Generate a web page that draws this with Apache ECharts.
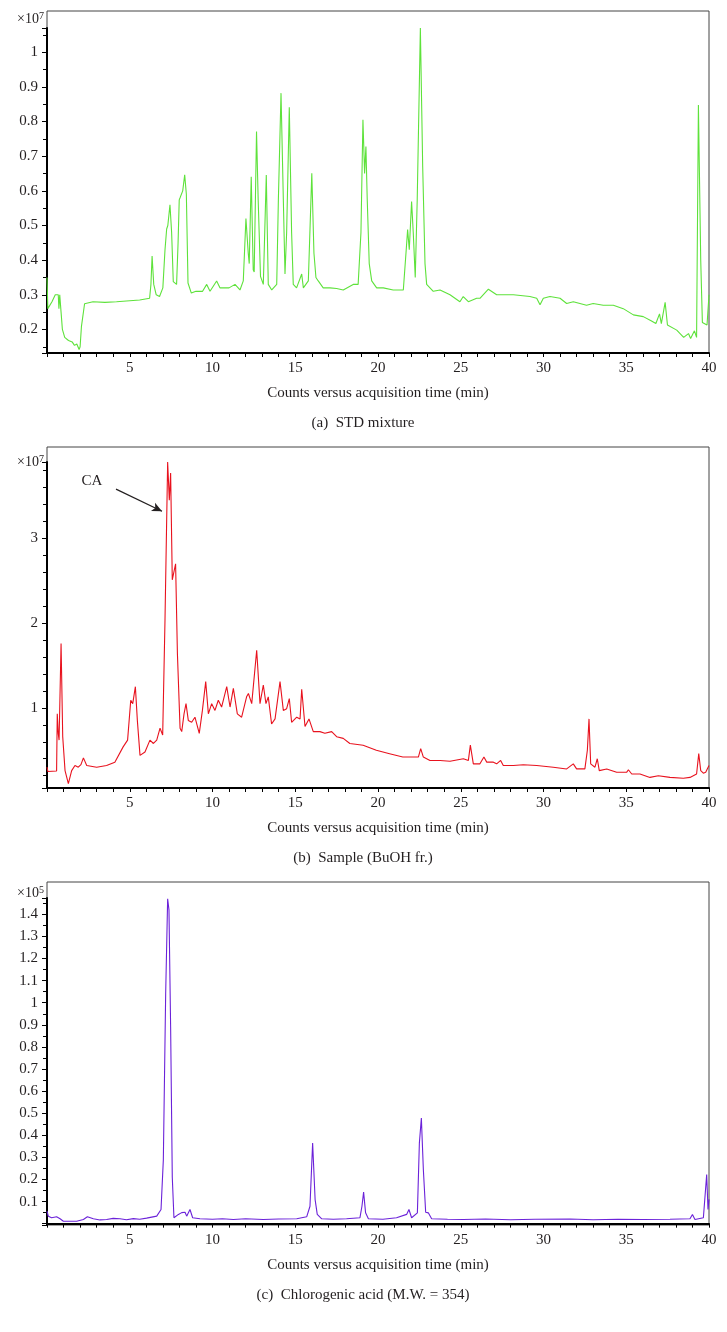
<!DOCTYPE html>
<html>
<head>
<meta charset="utf-8">
<script src="https://cdn.jsdelivr.net/npm/echarts@6/dist/echarts.min.js"></script>
<style>
  html, body { margin: 0; padding: 0; background: #fff; }
  #chart { width: 727px; height: 1332px; }
</style>
</head>
<body>
<div id="chart"></div>
<script>
// [time (min), counts]

// (a) STD mixture, x10^7
const stdPoints = [
  [0, 0.35], [0.05, 0.26], [0.3, 0.28], [0.5, 0.3], [0.68, 0.3], [0.72, 0.26], [0.77, 0.3], [0.85, 0.25],
  [0.93, 0.2], [1.07, 0.177], [1.3, 0.168], [1.52, 0.164], [1.66, 0.154], [1.8, 0.158], [1.94, 0.142],
  [2.0, 0.15], [2.08, 0.208], [2.27, 0.274], [2.78, 0.28], [3.5, 0.278], [4.2, 0.28], [5.0, 0.283],
  [5.6, 0.285], [6.2, 0.29], [6.28, 0.33], [6.35, 0.412], [6.45, 0.33], [6.6, 0.3], [6.8, 0.295],
  [7.0, 0.32], [7.13, 0.43], [7.23, 0.49], [7.3, 0.5], [7.43, 0.56], [7.53, 0.48], [7.63, 0.338],
  [7.83, 0.33], [7.92, 0.45], [7.99, 0.574], [8.04, 0.58], [8.2, 0.6], [8.32, 0.646], [8.42, 0.59],
  [8.52, 0.334], [8.72, 0.305], [9.0, 0.31], [9.4, 0.31], [9.65, 0.33], [9.85, 0.31], [10.25, 0.34],
  [10.45, 0.32], [11.0, 0.32], [11.36, 0.33], [11.66, 0.314], [11.86, 0.34], [12.02, 0.52], [12.16, 0.42],
  [12.22, 0.39], [12.34, 0.641], [12.46, 0.372], [12.52, 0.366], [12.66, 0.771], [12.76, 0.574],
  [12.9, 0.353], [13.07, 0.33], [13.25, 0.646], [13.37, 0.33], [13.58, 0.314], [13.88, 0.33],
  [13.98, 0.574], [14.14, 0.882], [14.28, 0.574], [14.38, 0.36], [14.48, 0.48], [14.64, 0.841],
  [14.78, 0.48], [14.88, 0.33], [15.08, 0.32], [15.39, 0.36], [15.49, 0.32], [15.79, 0.34], [16.0, 0.651],
  [16.13, 0.42], [16.25, 0.35], [16.39, 0.34], [16.69, 0.32], [17.1, 0.32], [17.5, 0.318], [17.9, 0.314],
  [18.5, 0.33], [18.8, 0.33], [18.97, 0.48], [19.09, 0.805], [19.19, 0.65], [19.27, 0.728], [19.35, 0.574],
  [19.47, 0.39], [19.62, 0.34], [19.92, 0.32], [20.32, 0.32], [20.92, 0.314], [21.53, 0.314], [21.69, 0.42],
  [21.79, 0.488], [21.89, 0.43], [22.03, 0.569], [22.13, 0.48], [22.25, 0.35], [22.37, 0.574], [22.56, 1.07],
  [22.7, 0.67], [22.84, 0.39], [22.94, 0.33], [23.34, 0.31], [23.75, 0.314], [24.35, 0.3], [24.95, 0.28],
  [25.15, 0.295], [25.46, 0.28], [25.96, 0.29], [26.16, 0.29], [26.67, 0.316], [27.17, 0.3], [28.18, 0.3],
  [29.18, 0.295], [29.59, 0.29], [29.79, 0.271], [29.99, 0.29], [30.39, 0.295], [31.0, 0.29], [31.4, 0.275],
  [31.8, 0.28], [32.6, 0.27], [33.0, 0.275], [33.61, 0.27], [34.22, 0.27], [34.82, 0.26], [35.43, 0.242],
  [36.03, 0.237], [36.5, 0.225], [36.79, 0.217], [37.01, 0.245], [37.12, 0.217], [37.35, 0.278],
  [37.49, 0.213], [38.05, 0.198], [38.47, 0.177], [38.76, 0.188], [38.89, 0.174], [39.12, 0.196],
  [39.25, 0.177], [39.36, 0.848], [39.5, 0.4], [39.6, 0.22], [39.88, 0.213], [40, 0.3]
]

// (b) Sample (BuOH fr.), x10^7
const samplePoints = [
  [0, 0.3], [0.05, 0.25], [0.58, 0.256], [0.62, 0.93], [0.68, 0.7], [0.73, 0.62], [0.85, 1.76], [0.95, 0.66],
  [1.09, 0.26], [1.29, 0.106], [1.49, 0.26], [1.69, 0.32], [1.89, 0.3], [2.05, 0.33], [2.2, 0.41], [2.4, 0.32],
  [3.0, 0.3], [3.6, 0.32], [4.1, 0.36], [4.6, 0.54], [4.87, 0.62], [5.06, 1.09], [5.18, 1.05], [5.34, 1.25],
  [5.46, 0.85], [5.62, 0.44], [5.92, 0.48], [6.22, 0.62], [6.43, 0.58], [6.63, 0.62], [6.83, 0.76],
  [6.99, 0.68], [7.13, 2.04], [7.29, 3.9], [7.39, 3.45], [7.47, 3.77], [7.57, 2.51], [7.67, 2.49], [7.77, 2.7],
  [7.88, 1.64], [8.04, 0.76], [8.14, 0.72], [8.28, 0.93], [8.4, 1.05], [8.54, 0.85], [8.74, 0.83],
  [8.94, 0.89], [9.2, 0.7], [9.39, 0.97], [9.59, 1.31], [9.75, 0.93], [9.95, 1.05], [10.15, 0.97],
  [10.35, 1.09], [10.55, 1.01], [10.86, 1.25], [11.06, 1.01], [11.26, 1.23], [11.5, 0.93], [11.76, 0.89],
  [12.06, 1.13], [12.17, 1.17], [12.37, 1.05], [12.67, 1.68], [12.87, 1.05], [13.07, 1.27], [13.23, 1.05],
  [13.37, 1.13], [13.57, 0.81], [13.78, 0.87], [14.08, 1.31], [14.28, 0.97], [14.48, 0.99], [14.64, 1.11],
  [14.78, 0.83], [15.09, 0.89], [15.29, 0.87], [15.39, 1.22], [15.59, 0.78], [15.83, 0.87], [16.09, 0.72],
  [16.49, 0.72], [16.79, 0.7], [17.2, 0.72], [17.5, 0.66], [17.9, 0.64], [18.3, 0.58], [19.1, 0.56],
  [19.9, 0.5], [20.7, 0.46], [21.5, 0.42], [22.0, 0.42], [22.44, 0.42], [22.58, 0.52], [22.74, 0.42],
  [23.14, 0.38], [23.75, 0.38], [24.35, 0.37], [25.16, 0.4], [25.46, 0.38], [25.58, 0.56], [25.76, 0.34],
  [26.16, 0.34], [26.4, 0.42], [26.57, 0.36], [26.97, 0.36], [27.17, 0.34], [27.41, 0.38], [27.57, 0.32],
  [28.18, 0.32], [28.78, 0.33], [29.59, 0.32], [30.59, 0.3], [31.4, 0.28], [31.8, 0.34], [32.0, 0.28],
  [32.5, 0.28], [32.65, 0.5], [32.75, 0.87], [32.85, 0.34], [33.11, 0.3], [33.25, 0.4], [33.37, 0.26],
  [33.82, 0.28], [34.42, 0.24], [35.02, 0.24], [35.13, 0.27], [35.33, 0.22], [35.83, 0.22], [36.43, 0.18],
  [36.94, 0.2], [37.64, 0.18], [38.45, 0.17], [38.85, 0.18], [39.25, 0.22], [39.38, 0.46], [39.5, 0.26],
  [39.66, 0.23], [39.8, 0.24], [40, 0.32]
]

// (c) Chlorogenic acid, x10^5
const cgaPoints = [
  [0, 0.057], [0.08, 0.034], [0.28, 0.027], [0.58, 0.031], [0.79, 0.022], [0.99, 0.011], [1.79, 0.011],
  [2.2, 0.019], [2.44, 0.031], [2.8, 0.022], [3.2, 0.017], [3.6, 0.019], [4.0, 0.024], [4.41, 0.022],
  [4.8, 0.018], [5.22, 0.023], [5.6, 0.02], [6.02, 0.025], [6.63, 0.034], [6.89, 0.064], [7.03, 0.29],
  [7.17, 1.04], [7.29, 1.47], [7.37, 1.42], [7.47, 0.89], [7.57, 0.21], [7.67, 0.027], [7.94, 0.042],
  [8.14, 0.05], [8.34, 0.052], [8.44, 0.034], [8.64, 0.064], [8.8, 0.027], [9.24, 0.022], [10.0, 0.02],
  [10.6, 0.022], [11.26, 0.019], [12.0, 0.022], [13.07, 0.019], [14.0, 0.021], [15.09, 0.022],
  [15.69, 0.031], [15.89, 0.079], [16.05, 0.365], [16.2, 0.109], [16.33, 0.042], [16.6, 0.022],
  [17.3, 0.02], [18.1, 0.022], [18.91, 0.027], [19.03, 0.079], [19.13, 0.143], [19.25, 0.049],
  [19.42, 0.022], [20.3, 0.02], [21.12, 0.027], [21.73, 0.042], [21.87, 0.064], [22.03, 0.027],
  [22.38, 0.049], [22.5, 0.365], [22.62, 0.478], [22.74, 0.245], [22.88, 0.052], [23.04, 0.049],
  [23.24, 0.022], [24.2, 0.02], [25.16, 0.019], [26.5, 0.021], [28, 0.018], [29.5, 0.02], [31.6, 0.021],
  [33, 0.018], [34.5, 0.02], [36, 0.019], [37.64, 0.02], [38.85, 0.022], [39.0, 0.042], [39.15, 0.019],
  [39.66, 0.027], [39.86, 0.222], [39.94, 0.064], [40, 0.11]
]

const captions = ['(a)  STD mixture', '(b)  Sample (BuOH fr.)', '(c)  Chlorogenic acid (M.W. = 354)']
const exponents = ['7', '7', '5']
const xTitle = 'Counts versus acquisition time (min)'

const FONT = 'Liberation Serif'
const INK = '#231f20'

// panel geometry (px): frame top, axis top, axis bottom
const panels = [
  { frameTop: 11, top: 28, bottom: 353, min: 0.132, max: 1.07, split: 9, minor: 2, nameGap: 9, color: '#5ee23b' },
  { frameTop: 447, top: 462, bottom: 788, min: 0.055, max: 3.9, split: 4, minor: 5, nameGap: 0, color: '#e8121e' },
  { frameTop: 882, top: 898, bottom: 1225, min: -0.006, max: 1.474, split: 15, minor: 2, nameGap: 5, color: '#6b22d9' }
]
const seriesPoints = [stdPoints, samplePoints, cgaPoints]

const chart = echarts.init(document.getElementById('chart'))

const grids = panels.map(p => ({
  left: 47,
  width: 662,
  top: p.top,
  height: p.bottom - p.top
}))

const xAxes = panels.map((p, i) => ({
  type: 'value',
  gridIndex: i,
  min: 0,
  max: 40,
  interval: 5,
  name: xTitle,
  nameLocation: 'middle',
  nameGap: 33,
  nameTextStyle: { fontFamily: FONT, fontSize: 15, color: INK },
  axisLine: { lineStyle: { color: '#000', width: 2 } },
  axisTick: { show: true, length: 4, lineStyle: { color: '#000' } },
  minorTick: { show: true, splitNumber: 5, length: 4, lineStyle: { color: '#000' } },
  splitLine: { show: false },
  axisLabel: {
    showMinLabel: false,
    margin: 8,
    fontFamily: FONT,
    fontSize: 15,
    color: INK
  }
}))

const yAxes = panels.map((p, i) => ({
  type: 'value',
  gridIndex: i,
  min: p.min,
  max: p.max,
  splitNumber: p.split,
  name: '{a|×10}{b|' + exponents[i] + '}',
  nameLocation: 'end',
  nameGap: p.nameGap,
  nameTextStyle: {
    align: 'right',
    verticalAlign: 'middle',
    padding: [0, 3, 0, 0],
    rich: {
      a: { fontFamily: FONT, fontSize: 14, color: INK },
      b: { fontFamily: FONT, fontSize: 10, color: INK, verticalAlign: 'top', padding: [0, 0, 6, 0] }
    }
  },
  axisLine: { show: true, lineStyle: { color: '#000', width: 2 } },
  axisTick: { show: true, length: 5, lineStyle: { color: '#000' } },
  minorTick: { show: true, splitNumber: p.minor, length: 4, lineStyle: { color: '#000' } },
  splitLine: { show: false },
  axisLabel: {
    showMinLabel: false,
    showMaxLabel: false,
    margin: 9,
    fontFamily: FONT,
    fontSize: 15,
    color: INK,
    formatter: v => (v === 0 ? '' : String(v))
  }
}))

const series = panels.map((p, i) => ({
  type: 'line',
  xAxisIndex: i,
  yAxisIndex: i,
  data: seriesPoints[i],
  symbol: 'none',
  lineStyle: { color: p.color, width: 1.1 },
  animation: false
}))

// CA arrow on the sample trace
series[1].markLine = {
  silent: true,
  symbol: ['none', 'arrow'],
  symbolSize: [7, 10],
  label: { show: false },
  lineStyle: { color: INK, width: 1.2, type: 'solid' },
  data: [[{ coord: [4.17, 3.58] }, { coord: [6.95, 3.32] }]]
}
series[1].markPoint = {
  silent: true,
  symbol: 'circle',
  symbolSize: 1,
  itemStyle: { color: 'rgba(0,0,0,0)' },
  label: { show: true, position: 'inside', formatter: 'CA', fontFamily: FONT, fontSize: 15, color: INK },
  data: [{ coord: [2.72, 3.68] }]
}

// thin frame round each plot + panel captions
const graphic = []
panels.forEach((p, i) => {
  graphic.push({
    type: 'rect',
    z: -1,
    shape: { x: 47, y: p.frameTop, width: 662, height: p.bottom - p.frameTop },
    style: { fill: 'none', stroke: '#444', lineWidth: 1 }
  })
  graphic.push({
    type: 'text',
    x: 363,
    y: p.bottom + 70,
    style: {
      text: captions[i],
      fontFamily: FONT,
      fontSize: 15,
      fill: INK,
      textAlign: 'center',
      textVerticalAlign: 'middle'
    }
  })
})

chart.setOption({
  backgroundColor: '#fff',
  animation: false,
  grid: grids,
  xAxis: xAxes,
  yAxis: yAxes,
  series: series,
  graphic: graphic
})
</script>
</body>
</html>
